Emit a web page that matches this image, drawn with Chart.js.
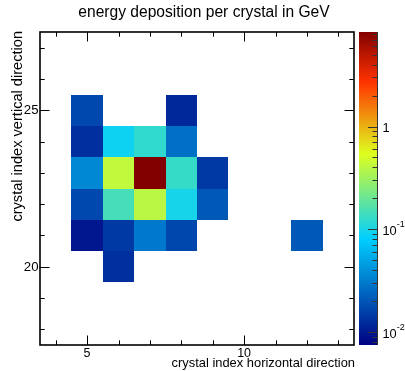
<!DOCTYPE html>
<html>
<head>
<meta charset="utf-8">
<title>energy deposition per crystal</title>
<script src="https://cdn.jsdelivr.net/npm/chart.js"></script>
<style>
  html, body { margin: 0; padding: 0; background: #fff; }
</style>
</head>
<body>
<canvas id="crystalMap" width="405" height="371"></canvas>
<script>
// crystal indices and the energy each one collected (GeV)
const cellX = [5, 8, 5, 6, 7, 8, 5, 6, 7, 8, 9, 5, 6, 7, 8, 9, 5, 6, 7, 8, 12, 6];
const cellY = [25, 25, 24, 24, 24, 24, 23, 23, 23, 23, 23, 22, 22, 22, 22, 22, 21, 21, 21, 21, 21, 20];
const cellE = [0.0171, 0.0119, 0.0130, 0.0905, 0.123, 0.0272,
               0.0358, 0.423, 8.3, 0.129, 0.0143,
               0.0171, 0.147, 0.394, 0.098, 0.0207,
               0.0098, 0.0143, 0.0300, 0.0170, 0.0207,
               0.0130];

const xTickLabels = [5, 10];
const yTickLabels = [20, 25];
const zTickValues = [0.01, 0.1, 1];
const zTickBase = ['10', '10', '1'];
const zTickExp = ['-2', '-1', ''];

const zMin = 0.0075, zMax = 8.3;

// blue -> cyan -> yellow -> red gradient
const paletteStops = [0, 0.34, 0.61, 0.84, 1];
const paletteRGB = [[0, 0, 130], [0, 207, 255], [222, 255, 31], [255, 51, 0], [130, 0, 0]];

function paletteColor(t) {
  t = Math.min(1, Math.max(0, t));
  let i = 1;
  while (i < paletteStops.length - 1 && t > paletteStops[i]) i++;
  const f = (t - paletteStops[i - 1]) / (paletteStops[i] - paletteStops[i - 1]);
  const a = paletteRGB[i - 1], b = paletteRGB[i];
  const c = a.map((v, k) => Math.round(v + (b[k] - v) * f));
  return 'rgb(' + c.join(',') + ')';
}

const FONT = '"Liberation Sans", Arial, Helvetica, sans-serif';

const rootStyle = {
  id: 'rootStyle',
  beforeDatasetsDraw(chart) {
    const { ctx, scales: { x, y, z } } = chart;
    ctx.save();
    chart.data.datasets[0].data.forEach(p => {
      const x0 = Math.round(x.getPixelForValue(p.x - 0.5));
      const x1 = Math.round(x.getPixelForValue(p.x + 0.5));
      const y0 = Math.round(y.getPixelForValue(p.y + 0.5));
      const y1 = Math.round(y.getPixelForValue(p.y - 0.5));
      const t = (z.bottom - z.getPixelForValue(p.e)) / (z.bottom - z.top);
      ctx.fillStyle = paletteColor(t);
      ctx.fillRect(x0, y0, x1 - x0, y1 - y0);
    });
    ctx.restore();
  },
  afterDraw(chart) {
    const { ctx, chartArea: area, scales: { x, y, z } } = chart;
    ctx.save();

    // frame
    ctx.strokeStyle = '#000';
    ctx.lineWidth = 1.6;
    ctx.strokeRect(area.left, area.top, area.right - area.left, area.bottom - area.top);

    // ticks on all four sides, pointing inwards
    ctx.lineWidth = 1;
    ctx.beginPath();
    for (let v = Math.ceil(x.min); v <= x.max; v++) {
      const px = Math.round(x.getPixelForValue(v)) + 0.5;
      const len = xTickLabels.includes(v) ? 9.5 : 4.7;
      ctx.moveTo(px, area.bottom); ctx.lineTo(px, area.bottom - len);
      ctx.moveTo(px, area.top); ctx.lineTo(px, area.top + len);
    }
    for (let v = Math.ceil(y.min); v <= y.max; v++) {
      const py = Math.round(y.getPixelForValue(v)) + 0.5;
      const len = yTickLabels.includes(v) ? 9.5 : 4.7;
      ctx.moveTo(area.left, py); ctx.lineTo(area.left + len, py);
      ctx.moveTo(area.right, py); ctx.lineTo(area.right - len, py);
    }
    ctx.stroke();

    ctx.fillStyle = '#000';
    ctx.font = '12.5px ' + FONT;
    ctx.textAlign = 'center';
    ctx.textBaseline = 'middle';
    xTickLabels.forEach(v => ctx.fillText(String(v), x.getPixelForValue(v), 354));
    ctx.font = '13.2px ' + FONT;
    ctx.textAlign = 'right';
    yTickLabels.forEach(v => ctx.fillText(String(v), area.left - 1.5, y.getPixelForValue(v) + 0.5));

    // colour bar
    const barL = area.right + 5, barR = area.right + 23;
    const grad = ctx.createLinearGradient(0, z.bottom, 0, z.top);
    paletteStops.forEach((s, i) => grad.addColorStop(s, 'rgb(' + paletteRGB[i].join(',') + ')'));
    ctx.fillStyle = grad;
    ctx.fillRect(barL, z.top, barR - barL, z.bottom - z.top);

    ctx.strokeStyle = '#333';
    ctx.beginPath();
    ctx.moveTo(barR + 0.5, z.top); ctx.lineTo(barR + 0.5, z.bottom);
    for (let e = -3; e <= 1; e++) {
      for (let k = 1; k <= 9; k++) {
        const v = k * Math.pow(10, e);
        if (v < zMin || v > zMax) continue;
        const py = Math.round(z.getPixelForValue(v)) + 0.5;
        const len = k === 1 ? 9 : 4.5;
        ctx.moveTo(barR, py); ctx.lineTo(barR - len, py);
      }
    }
    ctx.stroke();

    ctx.fillStyle = '#000';
    ctx.textAlign = 'left';
    zTickValues.forEach((v, i) => {
      const py = z.getPixelForValue(v);
      ctx.font = '12.8px ' + FONT;
      ctx.textBaseline = 'middle';
      ctx.fillText(zTickBase[i], barR + 5.5, py + 2);
      if (zTickExp[i]) {
        const w = ctx.measureText(zTickBase[i]).width;
        ctx.font = '9px ' + FONT;
        ctx.textBaseline = 'alphabetic';
        ctx.fillText(zTickExp[i], barR + 5.5 + w, py - 2);
      }
    });

    // titles
    ctx.font = '15.6px ' + FONT;
    ctx.textAlign = 'center';
    ctx.textBaseline = 'alphabetic';
    ctx.fillText('energy deposition per crystal in GeV', 204, 16.5);

    ctx.font = '12.9px ' + FONT;
    ctx.textAlign = 'right';
    ctx.fillText('crystal index horizontal direction', area.right + 1, 366.5);

    ctx.save();
    ctx.translate(21.5, area.top - 1);
    ctx.rotate(-Math.PI / 2);
    ctx.font = '14.6px ' + FONT;
    ctx.textAlign = 'right';
    ctx.fillText('crystal index vertical direction', 0, 0);
    ctx.restore();

    ctx.restore();
  }
};

new Chart(document.getElementById('crystalMap'), {
  type: 'scatter',
  data: {
    datasets: [{
      data: cellX.map((cx, i) => ({ x: cx, y: cellY[i], e: cellE[i] })),
      pointRadius: 0,
      pointHoverRadius: 0
    }]
  },
  options: {
    responsive: false,
    devicePixelRatio: 1,
    animation: false,
    events: [],
    layout: { padding: { left: 40, top: 32, right: 51, bottom: 26 } },
    scales: {
      x: { type: 'linear', min: 3.5, max: 13.5, display: false },
      y: { type: 'linear', min: 17.5, max: 27.5, display: false },
      z: { type: 'logarithmic', position: 'right', min: zMin, max: zMax, display: false }
    },
    plugins: {
      legend: { display: false },
      tooltip: { enabled: false }
    }
  },
  plugins: [rootStyle]
});
</script>
</body>
</html>
